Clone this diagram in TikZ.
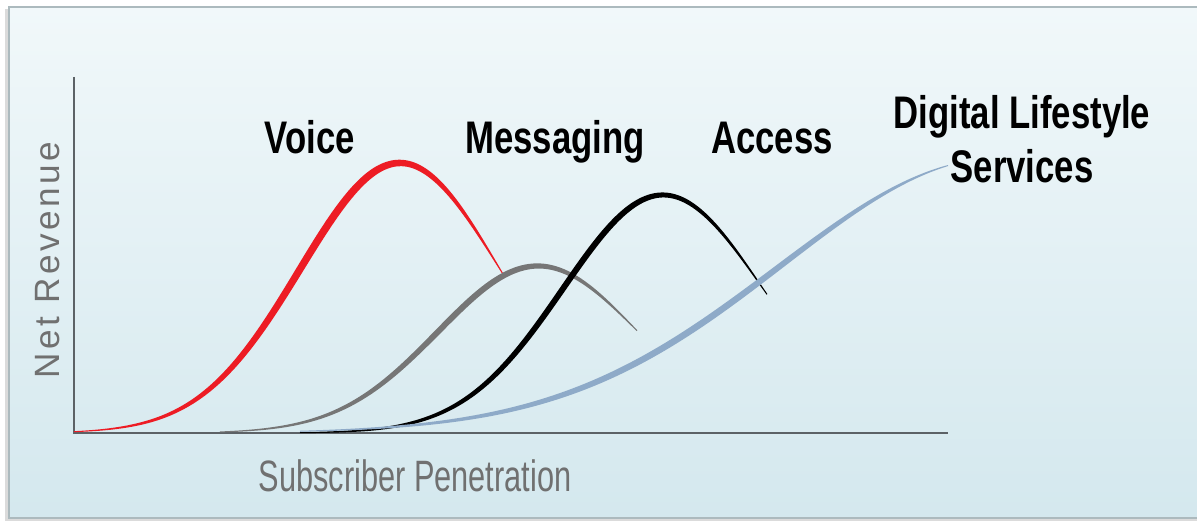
\documentclass[tikz,border=0pt]{standalone}
\usepackage{fontspec}
\setmainfont{Liberation Sans}
\newfontfamily\curvefont[FakeStretch=0.76]{Liberation Sans}
\newfontfamily\axisfont[FakeStretch=0.7]{Liberation Sans}
\newfontfamily\spacedfont[LetterSpace=10]{Liberation Sans}
\usetikzlibrary{positioning}
\definecolor{voicered}{RGB}{237,28,36}
\definecolor{msggray}{RGB}{118,118,118}
\definecolor{dlsblue}{RGB}{142,170,200}
\definecolor{axisgray}{RGB}{92,98,102}
\definecolor{textgray}{RGB}{112,112,112}
\definecolor{paneltop}{RGB}{241,248,250}
\definecolor{panelbot}{RGB}{212,232,238}
\definecolor{rim}{RGB}{172,186,190}
\tikzset{>=stealth,
  curvelabel/.style={font=\curvefont\bfseries\fontsize{26}{31}\selectfont, inner sep=0pt},
  axislabel/.style={text=textgray, inner sep=0pt}}
% colour, height, peak, spread, from, to, thickness
\newcommand{\bellcurve}[7]{%
  \fill[#1] plot[variable=\t, domain=#5:#6, samples=90, smooth]
      ({\t-half(\t,#5,#6,#7)*rise(\t,#2,#3,#4)/sqrt(1+rise(\t,#2,#3,#4)^2)},
       {88+bell(\t,#2,#3,#4)+half(\t,#5,#6,#7)/sqrt(1+rise(\t,#2,#3,#4)^2)})
    -- plot[variable=\t, domain=#6:#5, samples=90, smooth]
      ({\t+half(\t,#5,#6,#7)*rise(\t,#2,#3,#4)/sqrt(1+rise(\t,#2,#3,#4)^2)},
       {88+bell(\t,#2,#3,#4)-half(\t,#5,#6,#7)/sqrt(1+rise(\t,#2,#3,#4)^2)})
    -- cycle;}

\begin{document}
\begin{tikzpicture}[x=0.02cm, y=0.02cm,
    declare function={
      bell(\x,\a,\m,\s)=\a*exp(-0.5*((\x-\m)/\s)^2);
      rise(\x,\a,\m,\s)=-\a*((\x-\m)/\s)/\s*exp(-0.5*((\x-\m)/\s)^2);
      half(\x,\p,\q,\w)=0.5*(1+(\w-1)*sin(180*((\x-\p)/(\q-\p))^1.4));}]
  \useasboundingbox (0,0) rectangle (1197,521);
  \fill[black!14] (5,0) rectangle (1210,512);
  \shade[top color=paneltop, bottom color=panelbot, draw=rim, line width=1pt]
    (9,3) rectangle (1210,514);

  \coordinate (origin) at (74,88);
  \coordinate (ytop) at (74,444);
  \coordinate (xend) at (948,88);
  \draw[axisgray, line width=1.4pt] (ytop) -- (origin) -- (xend);

  \bellcurve{voicered}{270}{400}{100}{74}{503}{7.5}
  \bellcurve{msggray}{167}{538}{100}{220}{637}{6}
  \bellcurve{black}{238}{663}{100}{300}{767}{6}
  \bellcurve{dlsblue}{275}{1000}{220}{300}{948}{6.5}

  \node (voice) [curvelabel, anchor=base] at (310,367) {Voice};
  \node (msg) [curvelabel, anchor=base] at (555,367) {Messaging};
  \node (access) [curvelabel, anchor=base] at (772,367) {Access};
  \node (dls) [curvelabel, align=center] at (1022,382) {Digital Lifestyle\\Services};

  \node (yname) [axislabel, rotate=90, font=\spacedfont\fontsize{20}{24}\selectfont]
    at (48,261) {Net Revenue};
  \node (xname) [axislabel, anchor=base, font=\axisfont\fontsize{25}{30}\selectfont]
    at (415,30) {Subscriber Penetration};
\end{tikzpicture}
\end{document}
